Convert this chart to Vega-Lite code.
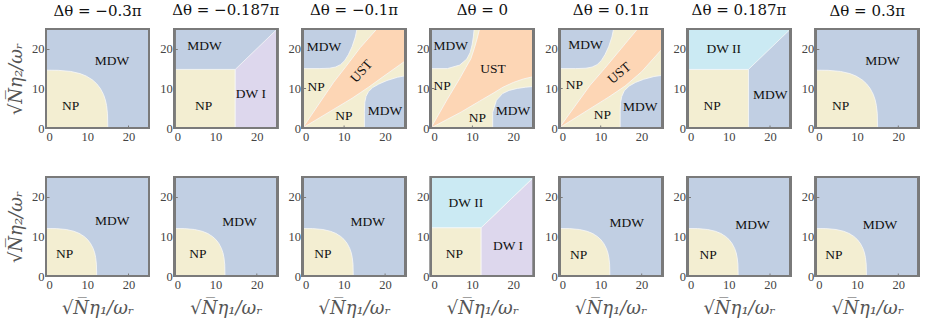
{
"$schema":"https://vega.github.io/schema/vega-lite/v6.json",
"background":"white",
"padding":{"left":7,"top":3,"right":4,"bottom":4},
"spacing":32,
"config":{
 "view":{"stroke":null},
 "font":"Liberation Serif",
 "axis":{"domain":false,"grid":false,"ticks":true,"tickSize":-3,"tickColor":"#7a7a7a","tickWidth":1,"labelFont":"Liberation Serif","labelFontSize":12.5,"labelColor":"#444","labelPadding":5,"titleFont":"DejaVu Serif","titleFontStyle":"italic","titleFontSize":18,"titleFontWeight":"normal","titleColor":"#555","titlePadding":6},
 "axisX":{"titlePadding":9},
 "text":{"font":"Liberation Serif","fontSize":13.5,"color":"#111"},
 "area":{"stroke":"#f8f8f8","strokeWidth":0.8},
 "rect":{"filled":false,"stroke":"#7a7a7a","strokeWidth":2},
 "title":{"font":"DejaVu Serif","fontSize":15,"fontWeight":"normal","color":"#111","offset":9,"anchor":"middle","frame":"group"}
},
"vconcat":[
{"hconcat":[
{"width":103,"height":99,"title":"Δθ = −0.3π","view":{"fill":"#c1cfe3"},
 "data":{"values":[
  {"k":"a","id":"n","r":"NP","x":0,"y":14.6,"y2":0},{"k":"a","id":"n","r":"NP","x":3,"y":14.56,"y2":0},{"k":"a","id":"n","r":"NP","x":6,"y":14.28,"y2":0},{"k":"a","id":"n","r":"NP","x":8.25,"y":13.74,"y2":0},{"k":"a","id":"n","r":"NP","x":9.75,"y":13.12,"y2":0},{"k":"a","id":"n","r":"NP","x":11.25,"y":12.16,"y2":0},{"k":"a","id":"n","r":"NP","x":12.3,"y":11.18,"y2":0},{"k":"a","id":"n","r":"NP","x":13.2,"y":9.97,"y2":0},{"k":"a","id":"n","r":"NP","x":13.95,"y":8.48,"y2":0},{"k":"a","id":"n","r":"NP","x":14.4,"y":7.11,"y2":0},{"k":"a","id":"n","r":"NP","x":14.7,"y":5.68,"y2":0},{"k":"a","id":"n","r":"NP","x":14.93,"y":3.59,"y2":0},{"k":"a","id":"n","r":"NP","x":15,"y":0,"y2":0},
  {"k":"t","r":"MDW","x":16,"y":17},{"k":"t","r":"NP","x":6,"y":5.6}]},
 "encoding":{"x":{"field":"x","type":"quantitative","scale":{"domain":[0,25],"nice":false},"axis":{"values":[0,10,20],"title":null}},"y":{"field":"y","type":"quantitative","scale":{"domain":[0,25],"nice":false},"axis":{"values":[0,10,20],"title":"√N̅η₂/ωᵣ"}}},
 "layer":[
  {"transform":[{"filter":"datum.k=='a'"}],"mark":"area","encoding":{"y2":{"field":"y2"},"color":{"field":"r","type":"nominal","scale":{"domain":["MDW","NP","UST","DW I","DW II"],"range":["#c1cfe3","#f3eed2","#fdd6b5","#ddd7ed","#cbeaf3"]},"legend":null},"detail":{"field":"id"}}},
  {"mark":"rect","encoding":{"x":{"datum":0,"type":"quantitative"},"x2":{"datum":25},"y":{"datum":0,"type":"quantitative"},"y2":{"datum":25}}},
  {"transform":[{"filter":"datum.k=='t'"}],"mark":"text","encoding":{"text":{"field":"r"}}}
 ]},
{"width":103,"height":99,"title":"Δθ = −0.187π","view":{"fill":"#c1cfe3"},
 "data":{"values":[
  {"k":"a","id":"n","r":"NP","x":0,"y":14.8,"y2":0},{"k":"a","id":"n","r":"NP","x":14.8,"y":14.8,"y2":0},
  {"k":"a","id":"d","r":"DW I","x":14.8,"y":14.8,"y2":0},{"k":"a","id":"d","r":"DW I","x":25,"y":25,"y2":0},
  {"k":"t","r":"MDW","x":7.3,"y":20.8},{"k":"t","r":"NP","x":7.1,"y":5.6},{"k":"t","r":"DW I","x":18.6,"y":8.6}]},
 "encoding":{"x":{"field":"x","type":"quantitative","scale":{"domain":[0,25],"nice":false},"axis":{"values":[0,10,20],"title":null}},"y":{"field":"y","type":"quantitative","scale":{"domain":[0,25],"nice":false},"axis":{"values":[0,10,20],"title":null}}},
 "layer":[
  {"transform":[{"filter":"datum.k=='a'"}],"mark":"area","encoding":{"y2":{"field":"y2"},"color":{"field":"r","type":"nominal","scale":{"domain":["MDW","NP","UST","DW I","DW II"],"range":["#c1cfe3","#f3eed2","#fdd6b5","#ddd7ed","#cbeaf3"]},"legend":null},"detail":{"field":"id"}}},
  {"mark":"rect","encoding":{"x":{"datum":0,"type":"quantitative"},"x2":{"datum":25},"y":{"datum":0,"type":"quantitative"},"y2":{"datum":25}}},
  {"transform":[{"filter":"datum.k=='t'"}],"mark":"text","encoding":{"text":{"field":"r"}}}
 ]},
{"width":103,"height":99,"title":"Δθ = −0.1π","view":{"fill":"#f3eed2"},
 "data":{"values":[
  {"k":"a","id":"m1","r":"MDW","x":0,"y":15,"y2":25},{"k":"a","id":"m1","r":"MDW","x":4,"y":15,"y2":25},{"k":"a","id":"m1","r":"MDW","x":6.5,"y":15.1,"y2":25},{"k":"a","id":"m1","r":"MDW","x":8,"y":15.4,"y2":25},{"k":"a","id":"m1","r":"MDW","x":9.2,"y":16,"y2":25},{"k":"a","id":"m1","r":"MDW","x":10.2,"y":17,"y2":25},{"k":"a","id":"m1","r":"MDW","x":11.1,"y":18.5,"y2":25},{"k":"a","id":"m1","r":"MDW","x":12,"y":20.5,"y2":25},{"k":"a","id":"m1","r":"MDW","x":12.8,"y":23,"y2":25},{"k":"a","id":"m1","r":"MDW","x":13.2,"y":25,"y2":25},
  {"k":"a","id":"m2","r":"MDW","x":15,"y":0,"y2":4},{"k":"a","id":"m2","r":"MDW","x":15.1,"y":0,"y2":6.5},{"k":"a","id":"m2","r":"MDW","x":15.4,"y":0,"y2":8},{"k":"a","id":"m2","r":"MDW","x":16,"y":0,"y2":9.2},{"k":"a","id":"m2","r":"MDW","x":17,"y":0,"y2":10.2},{"k":"a","id":"m2","r":"MDW","x":18.5,"y":0,"y2":11.1},{"k":"a","id":"m2","r":"MDW","x":20.5,"y":0,"y2":12},{"k":"a","id":"m2","r":"MDW","x":23,"y":0,"y2":12.8},{"k":"a","id":"m2","r":"MDW","x":25,"y":0,"y2":13.2},
  {"k":"a","id":"u","r":"UST","x":0,"y":0,"y2":0},{"k":"a","id":"u","r":"UST","x":7.5,"y":4.69,"y2":11.5},{"k":"a","id":"u","r":"UST","x":10.5,"y":6.56,"y2":15.5},{"k":"a","id":"u","r":"UST","x":12,"y":7.5,"y2":17.56},{"k":"a","id":"u","r":"UST","x":14,"y":8.9,"y2":20.3},{"k":"a","id":"u","r":"UST","x":16,"y":10.3,"y2":22.65},{"k":"a","id":"u","r":"UST","x":18,"y":11.8,"y2":25},{"k":"a","id":"u","r":"UST","x":20,"y":13.3,"y2":25},{"k":"a","id":"u","r":"UST","x":25,"y":17,"y2":25},
  {"k":"t","r":"MDW","x":5.2,"y":20.5},{"k":"t","r":"NP","x":3.3,"y":10.3},{"k":"t","r":"NP","x":10,"y":3},{"k":"t","r":"MDW","x":20,"y":4.3},{"k":"u","r":"UST","x":14.3,"y":14.3}]},
 "encoding":{"x":{"field":"x","type":"quantitative","scale":{"domain":[0,25],"nice":false},"axis":{"values":[0,10,20],"title":null}},"y":{"field":"y","type":"quantitative","scale":{"domain":[0,25],"nice":false},"axis":{"values":[0,10,20],"title":null}}},
 "layer":[
  {"transform":[{"filter":"datum.k=='a'"}],"mark":"area","encoding":{"y2":{"field":"y2"},"color":{"field":"r","type":"nominal","scale":{"domain":["MDW","NP","UST","DW I","DW II"],"range":["#c1cfe3","#f3eed2","#fdd6b5","#ddd7ed","#cbeaf3"]},"legend":null},"detail":{"field":"id"}}},
  {"mark":"rect","encoding":{"x":{"datum":0,"type":"quantitative"},"x2":{"datum":25},"y":{"datum":0,"type":"quantitative"},"y2":{"datum":25}}},
  {"transform":[{"filter":"datum.k=='t'"}],"mark":"text","encoding":{"text":{"field":"r"}}},
  {"transform":[{"filter":"datum.k=='u'"}],"mark":{"type":"text","angle":-48},"encoding":{"text":{"field":"r"}}}
 ]},
{"width":103,"height":99,"title":"Δθ = 0","view":{"fill":"#f3eed2"},
 "data":{"values":[
  {"k":"a","id":"m1","r":"MDW","x":0,"y":15,"y2":25},{"k":"a","id":"m1","r":"MDW","x":4,"y":15,"y2":25},{"k":"a","id":"m1","r":"MDW","x":7,"y":15.9,"y2":25},{"k":"a","id":"m1","r":"MDW","x":8.7,"y":17.4,"y2":25},{"k":"a","id":"m1","r":"MDW","x":9.5,"y":19,"y2":25},{"k":"a","id":"m1","r":"MDW","x":10,"y":21,"y2":25},{"k":"a","id":"m1","r":"MDW","x":10.3,"y":23,"y2":25},{"k":"a","id":"m1","r":"MDW","x":10.5,"y":25,"y2":25},
  {"k":"a","id":"m2","r":"MDW","x":15,"y":0,"y2":4},{"k":"a","id":"m2","r":"MDW","x":15.9,"y":0,"y2":7},{"k":"a","id":"m2","r":"MDW","x":17.4,"y":0,"y2":8.7},{"k":"a","id":"m2","r":"MDW","x":19,"y":0,"y2":9.5},{"k":"a","id":"m2","r":"MDW","x":21,"y":0,"y2":10},{"k":"a","id":"m2","r":"MDW","x":23,"y":0,"y2":10.3},{"k":"a","id":"m2","r":"MDW","x":25,"y":0,"y2":10.5},
  {"k":"a","id":"u","r":"UST","x":0,"y":0,"y2":0},{"k":"a","id":"u","r":"UST","x":4,"y":2.19,"y2":7.3},{"k":"a","id":"u","r":"UST","x":7,"y":3.84,"y2":12.5},{"k":"a","id":"u","r":"UST","x":7.3,"y":4,"y2":13.06},{"k":"a","id":"u","r":"UST","x":8.5,"y":4.74,"y2":15.3},{"k":"a","id":"u","r":"UST","x":9.7,"y":5.48,"y2":17.5},{"k":"a","id":"u","r":"UST","x":10.5,"y":5.97,"y2":20},{"k":"a","id":"u","r":"UST","x":11.2,"y":6.4,"y2":22.5},{"k":"a","id":"u","r":"UST","x":11.8,"y":6.77,"y2":25},{"k":"a","id":"u","r":"UST","x":12.5,"y":7.2,"y2":25},{"k":"a","id":"u","r":"UST","x":15.3,"y":8.9,"y2":25},{"k":"a","id":"u","r":"UST","x":17.5,"y":10.3,"y2":25},{"k":"a","id":"u","r":"UST","x":20,"y":11.5,"y2":25},{"k":"a","id":"u","r":"UST","x":22.5,"y":12.4,"y2":25},{"k":"a","id":"u","r":"UST","x":25,"y":13,"y2":25},
  {"k":"t","r":"MDW","x":4.8,"y":20.6},{"k":"t","r":"UST","x":15.1,"y":14.9},{"k":"t","r":"NP","x":2.7,"y":10.7},{"k":"t","r":"NP","x":11.3,"y":2.5},{"k":"t","r":"MDW","x":19.9,"y":4.4}]},
 "encoding":{"x":{"field":"x","type":"quantitative","scale":{"domain":[0,25],"nice":false},"axis":{"values":[0,10,20],"title":null}},"y":{"field":"y","type":"quantitative","scale":{"domain":[0,25],"nice":false},"axis":{"values":[0,10,20],"title":null}}},
 "layer":[
  {"transform":[{"filter":"datum.k=='a'"}],"mark":"area","encoding":{"y2":{"field":"y2"},"color":{"field":"r","type":"nominal","scale":{"domain":["MDW","NP","UST","DW I","DW II"],"range":["#c1cfe3","#f3eed2","#fdd6b5","#ddd7ed","#cbeaf3"]},"legend":null},"detail":{"field":"id"}}},
  {"mark":"rect","encoding":{"x":{"datum":0,"type":"quantitative"},"x2":{"datum":25},"y":{"datum":0,"type":"quantitative"},"y2":{"datum":25}}},
  {"transform":[{"filter":"datum.k=='t'"}],"mark":"text","encoding":{"text":{"field":"r"}}}
 ]},
{"width":103,"height":99,"title":"Δθ = 0.1π","view":{"fill":"#f3eed2"},
 "data":{"values":[
  {"k":"a","id":"m1","r":"MDW","x":0,"y":15,"y2":25},{"k":"a","id":"m1","r":"MDW","x":4,"y":15,"y2":25},{"k":"a","id":"m1","r":"MDW","x":6.5,"y":15.1,"y2":25},{"k":"a","id":"m1","r":"MDW","x":8,"y":15.4,"y2":25},{"k":"a","id":"m1","r":"MDW","x":9.2,"y":16,"y2":25},{"k":"a","id":"m1","r":"MDW","x":10.2,"y":17,"y2":25},{"k":"a","id":"m1","r":"MDW","x":11.1,"y":18.5,"y2":25},{"k":"a","id":"m1","r":"MDW","x":12,"y":20.5,"y2":25},{"k":"a","id":"m1","r":"MDW","x":12.8,"y":23,"y2":25},{"k":"a","id":"m1","r":"MDW","x":13.2,"y":25,"y2":25},
  {"k":"a","id":"m2","r":"MDW","x":14.8,"y":0,"y2":4},{"k":"a","id":"m2","r":"MDW","x":14.9,"y":0,"y2":6.5},{"k":"a","id":"m2","r":"MDW","x":15.2,"y":0,"y2":8},{"k":"a","id":"m2","r":"MDW","x":15.8,"y":0,"y2":9.4},{"k":"a","id":"m2","r":"MDW","x":17,"y":0,"y2":10.6},{"k":"a","id":"m2","r":"MDW","x":18.5,"y":0,"y2":11.5},{"k":"a","id":"m2","r":"MDW","x":20.5,"y":0,"y2":12.3},{"k":"a","id":"m2","r":"MDW","x":23,"y":0,"y2":13},{"k":"a","id":"m2","r":"MDW","x":25,"y":0,"y2":13.3},
  {"k":"a","id":"u","r":"UST","x":0,"y":0,"y2":0},{"k":"a","id":"u","r":"UST","x":7.5,"y":4.875,"y2":10.8},{"k":"a","id":"u","r":"UST","x":11,"y":7.15,"y2":15},{"k":"a","id":"u","r":"UST","x":12,"y":7.8,"y2":16.25},{"k":"a","id":"u","r":"UST","x":15,"y":9.9,"y2":20},{"k":"a","id":"u","r":"UST","x":16,"y":10.6,"y2":21.25},{"k":"a","id":"u","r":"UST","x":19,"y":13.3,"y2":25},{"k":"a","id":"u","r":"UST","x":20,"y":14.2,"y2":25},{"k":"a","id":"u","r":"UST","x":25,"y":20,"y2":25},
  {"k":"t","r":"MDW","x":6.4,"y":21},{"k":"t","r":"NP","x":3.7,"y":10.8},{"k":"t","r":"NP","x":10.5,"y":3.3},{"k":"t","r":"MDW","x":19.7,"y":5.2},{"k":"u","r":"UST","x":14.6,"y":13.8}]},
 "encoding":{"x":{"field":"x","type":"quantitative","scale":{"domain":[0,25],"nice":false},"axis":{"values":[0,10,20],"title":null}},"y":{"field":"y","type":"quantitative","scale":{"domain":[0,25],"nice":false},"axis":{"values":[0,10,20],"title":null}}},
 "layer":[
  {"transform":[{"filter":"datum.k=='a'"}],"mark":"area","encoding":{"y2":{"field":"y2"},"color":{"field":"r","type":"nominal","scale":{"domain":["MDW","NP","UST","DW I","DW II"],"range":["#c1cfe3","#f3eed2","#fdd6b5","#ddd7ed","#cbeaf3"]},"legend":null},"detail":{"field":"id"}}},
  {"mark":"rect","encoding":{"x":{"datum":0,"type":"quantitative"},"x2":{"datum":25},"y":{"datum":0,"type":"quantitative"},"y2":{"datum":25}}},
  {"transform":[{"filter":"datum.k=='t'"}],"mark":"text","encoding":{"text":{"field":"r"}}},
  {"transform":[{"filter":"datum.k=='u'"}],"mark":{"type":"text","angle":-40},"encoding":{"text":{"field":"r"}}}
 ]},
{"width":103,"height":99,"title":"Δθ = 0.187π","view":{"fill":"#c1cfe3"},
 "data":{"values":[
  {"k":"a","id":"n","r":"NP","x":0,"y":14.8,"y2":0},{"k":"a","id":"n","r":"NP","x":14.8,"y":14.8,"y2":0},
  {"k":"a","id":"d","r":"DW II","x":0,"y":14.8,"y2":25},{"k":"a","id":"d","r":"DW II","x":14.8,"y":14.8,"y2":25},{"k":"a","id":"d","r":"DW II","x":25,"y":25,"y2":25},
  {"k":"t","r":"DW II","x":8.8,"y":19.9},{"k":"t","r":"NP","x":6,"y":5.6},{"k":"t","r":"MDW","x":20.1,"y":8.4}]},
 "encoding":{"x":{"field":"x","type":"quantitative","scale":{"domain":[0,25],"nice":false},"axis":{"values":[0,10,20],"title":null}},"y":{"field":"y","type":"quantitative","scale":{"domain":[0,25],"nice":false},"axis":{"values":[0,10,20],"title":null}}},
 "layer":[
  {"transform":[{"filter":"datum.k=='a'"}],"mark":"area","encoding":{"y2":{"field":"y2"},"color":{"field":"r","type":"nominal","scale":{"domain":["MDW","NP","UST","DW I","DW II"],"range":["#c1cfe3","#f3eed2","#fdd6b5","#ddd7ed","#cbeaf3"]},"legend":null},"detail":{"field":"id"}}},
  {"mark":"rect","encoding":{"x":{"datum":0,"type":"quantitative"},"x2":{"datum":25},"y":{"datum":0,"type":"quantitative"},"y2":{"datum":25}}},
  {"transform":[{"filter":"datum.k=='t'"}],"mark":"text","encoding":{"text":{"field":"r"}}}
 ]},
{"width":103,"height":99,"title":"Δθ = 0.3π","view":{"fill":"#c1cfe3"},
 "data":{"values":[
  {"k":"a","id":"n","r":"NP","x":0,"y":14.6,"y2":0},{"k":"a","id":"n","r":"NP","x":3,"y":14.56,"y2":0},{"k":"a","id":"n","r":"NP","x":6,"y":14.28,"y2":0},{"k":"a","id":"n","r":"NP","x":8.25,"y":13.74,"y2":0},{"k":"a","id":"n","r":"NP","x":9.75,"y":13.12,"y2":0},{"k":"a","id":"n","r":"NP","x":11.25,"y":12.16,"y2":0},{"k":"a","id":"n","r":"NP","x":12.3,"y":11.18,"y2":0},{"k":"a","id":"n","r":"NP","x":13.2,"y":9.97,"y2":0},{"k":"a","id":"n","r":"NP","x":13.95,"y":8.48,"y2":0},{"k":"a","id":"n","r":"NP","x":14.4,"y":7.11,"y2":0},{"k":"a","id":"n","r":"NP","x":14.7,"y":5.68,"y2":0},{"k":"a","id":"n","r":"NP","x":14.93,"y":3.59,"y2":0},{"k":"a","id":"n","r":"NP","x":15,"y":0,"y2":0},
  {"k":"t","r":"MDW","x":16.2,"y":17},{"k":"t","r":"NP","x":6,"y":5.6}]},
 "encoding":{"x":{"field":"x","type":"quantitative","scale":{"domain":[0,25],"nice":false},"axis":{"values":[0,10,20],"title":null}},"y":{"field":"y","type":"quantitative","scale":{"domain":[0,25],"nice":false},"axis":{"values":[0,10,20],"title":null}}},
 "layer":[
  {"transform":[{"filter":"datum.k=='a'"}],"mark":"area","encoding":{"y2":{"field":"y2"},"color":{"field":"r","type":"nominal","scale":{"domain":["MDW","NP","UST","DW I","DW II"],"range":["#c1cfe3","#f3eed2","#fdd6b5","#ddd7ed","#cbeaf3"]},"legend":null},"detail":{"field":"id"}}},
  {"mark":"rect","encoding":{"x":{"datum":0,"type":"quantitative"},"x2":{"datum":25},"y":{"datum":0,"type":"quantitative"},"y2":{"datum":25}}},
  {"transform":[{"filter":"datum.k=='t'"}],"mark":"text","encoding":{"text":{"field":"r"}}}
 ]}
],"spacing":25.3,"bounds":"flush"},
{"hconcat":[
{"width":103,"height":99,"view":{"fill":"#c1cfe3"},
 "data":{"values":[
  {"k":"a","id":"n","r":"NP","x":0,"y":12,"y2":0},{"k":"a","id":"n","r":"NP","x":2.46,"y":11.97,"y2":0},{"k":"a","id":"n","r":"NP","x":4.92,"y":11.74,"y2":0},{"k":"a","id":"n","r":"NP","x":6.77,"y":11.29,"y2":0},{"k":"a","id":"n","r":"NP","x":8,"y":10.78,"y2":0},{"k":"a","id":"n","r":"NP","x":9.23,"y":10,"y2":0},{"k":"a","id":"n","r":"NP","x":10.09,"y":9.19,"y2":0},{"k":"a","id":"n","r":"NP","x":10.82,"y":8.2,"y2":0},{"k":"a","id":"n","r":"NP","x":11.44,"y":6.97,"y2":0},{"k":"a","id":"n","r":"NP","x":11.81,"y":5.84,"y2":0},{"k":"a","id":"n","r":"NP","x":12.05,"y":4.67,"y2":0},{"k":"a","id":"n","r":"NP","x":12.24,"y":2.95,"y2":0},{"k":"a","id":"n","r":"NP","x":12.3,"y":0,"y2":0},
  {"k":"t","r":"MDW","x":16.1,"y":13.9},{"k":"t","r":"NP","x":4.5,"y":5.5}]},
 "encoding":{"x":{"field":"x","type":"quantitative","scale":{"domain":[0,25],"nice":false},"axis":{"values":[0,10,20],"title":"√N̅η₁/ωᵣ"}},"y":{"field":"y","type":"quantitative","scale":{"domain":[0,25],"nice":false},"axis":{"values":[0,10,20],"title":"√N̅η₂/ωᵣ"}}},
 "layer":[
  {"transform":[{"filter":"datum.k=='a'"}],"mark":"area","encoding":{"y2":{"field":"y2"},"color":{"field":"r","type":"nominal","scale":{"domain":["MDW","NP","UST","DW I","DW II"],"range":["#c1cfe3","#f3eed2","#fdd6b5","#ddd7ed","#cbeaf3"]},"legend":null},"detail":{"field":"id"}}},
  {"mark":"rect","encoding":{"x":{"datum":0,"type":"quantitative"},"x2":{"datum":25},"y":{"datum":0,"type":"quantitative"},"y2":{"datum":25}}},
  {"transform":[{"filter":"datum.k=='t'"}],"mark":"text","encoding":{"text":{"field":"r"}}}
 ]},
{"width":103,"height":99,"view":{"fill":"#c1cfe3"},
 "data":{"values":[
  {"k":"a","id":"n","r":"NP","x":0,"y":12,"y2":0},{"k":"a","id":"n","r":"NP","x":2.46,"y":11.97,"y2":0},{"k":"a","id":"n","r":"NP","x":4.92,"y":11.74,"y2":0},{"k":"a","id":"n","r":"NP","x":6.77,"y":11.29,"y2":0},{"k":"a","id":"n","r":"NP","x":8,"y":10.78,"y2":0},{"k":"a","id":"n","r":"NP","x":9.23,"y":10,"y2":0},{"k":"a","id":"n","r":"NP","x":10.09,"y":9.19,"y2":0},{"k":"a","id":"n","r":"NP","x":10.82,"y":8.2,"y2":0},{"k":"a","id":"n","r":"NP","x":11.44,"y":6.97,"y2":0},{"k":"a","id":"n","r":"NP","x":11.81,"y":5.84,"y2":0},{"k":"a","id":"n","r":"NP","x":12.05,"y":4.67,"y2":0},{"k":"a","id":"n","r":"NP","x":12.24,"y":2.95,"y2":0},{"k":"a","id":"n","r":"NP","x":12.3,"y":0,"y2":0},
  {"k":"t","r":"MDW","x":15.8,"y":13.7},{"k":"t","r":"NP","x":5.7,"y":5.5}]},
 "encoding":{"x":{"field":"x","type":"quantitative","scale":{"domain":[0,25],"nice":false},"axis":{"values":[0,10,20],"title":"√N̅η₁/ωᵣ"}},"y":{"field":"y","type":"quantitative","scale":{"domain":[0,25],"nice":false},"axis":{"values":[0,10,20],"title":null}}},
 "layer":[
  {"transform":[{"filter":"datum.k=='a'"}],"mark":"area","encoding":{"y2":{"field":"y2"},"color":{"field":"r","type":"nominal","scale":{"domain":["MDW","NP","UST","DW I","DW II"],"range":["#c1cfe3","#f3eed2","#fdd6b5","#ddd7ed","#cbeaf3"]},"legend":null},"detail":{"field":"id"}}},
  {"mark":"rect","encoding":{"x":{"datum":0,"type":"quantitative"},"x2":{"datum":25},"y":{"datum":0,"type":"quantitative"},"y2":{"datum":25}}},
  {"transform":[{"filter":"datum.k=='t'"}],"mark":"text","encoding":{"text":{"field":"r"}}}
 ]},
{"width":103,"height":99,"view":{"fill":"#c1cfe3"},
 "data":{"values":[
  {"k":"a","id":"n","r":"NP","x":0,"y":12,"y2":0},{"k":"a","id":"n","r":"NP","x":2.46,"y":11.97,"y2":0},{"k":"a","id":"n","r":"NP","x":4.92,"y":11.74,"y2":0},{"k":"a","id":"n","r":"NP","x":6.77,"y":11.29,"y2":0},{"k":"a","id":"n","r":"NP","x":8,"y":10.78,"y2":0},{"k":"a","id":"n","r":"NP","x":9.23,"y":10,"y2":0},{"k":"a","id":"n","r":"NP","x":10.09,"y":9.19,"y2":0},{"k":"a","id":"n","r":"NP","x":10.82,"y":8.2,"y2":0},{"k":"a","id":"n","r":"NP","x":11.44,"y":6.97,"y2":0},{"k":"a","id":"n","r":"NP","x":11.81,"y":5.84,"y2":0},{"k":"a","id":"n","r":"NP","x":12.05,"y":4.67,"y2":0},{"k":"a","id":"n","r":"NP","x":12.24,"y":2.95,"y2":0},{"k":"a","id":"n","r":"NP","x":12.3,"y":0,"y2":0},
  {"k":"t","r":"MDW","x":15.8,"y":13.6},{"k":"t","r":"NP","x":4.9,"y":5.5}]},
 "encoding":{"x":{"field":"x","type":"quantitative","scale":{"domain":[0,25],"nice":false},"axis":{"values":[0,10,20],"title":"√N̅η₁/ωᵣ"}},"y":{"field":"y","type":"quantitative","scale":{"domain":[0,25],"nice":false},"axis":{"values":[0,10,20],"title":null}}},
 "layer":[
  {"transform":[{"filter":"datum.k=='a'"}],"mark":"area","encoding":{"y2":{"field":"y2"},"color":{"field":"r","type":"nominal","scale":{"domain":["MDW","NP","UST","DW I","DW II"],"range":["#c1cfe3","#f3eed2","#fdd6b5","#ddd7ed","#cbeaf3"]},"legend":null},"detail":{"field":"id"}}},
  {"mark":"rect","encoding":{"x":{"datum":0,"type":"quantitative"},"x2":{"datum":25},"y":{"datum":0,"type":"quantitative"},"y2":{"datum":25}}},
  {"transform":[{"filter":"datum.k=='t'"}],"mark":"text","encoding":{"text":{"field":"r"}}}
 ]},
{"width":103,"height":99,"view":{"fill":"#f3eed2"},
 "data":{"values":[
  {"k":"a","id":"n","r":"NP","x":0,"y":12.2,"y2":0},{"k":"a","id":"n","r":"NP","x":12.2,"y":12.2,"y2":0},
  {"k":"a","id":"d1","r":"DW I","x":12.2,"y":12.2,"y2":0},{"k":"a","id":"d1","r":"DW I","x":25,"y":25,"y2":0},
  {"k":"a","id":"d2","r":"DW II","x":0,"y":12.2,"y2":25},{"k":"a","id":"d2","r":"DW II","x":12.2,"y":12.2,"y2":25},{"k":"a","id":"d2","r":"DW II","x":25,"y":25,"y2":25},
  {"k":"t","r":"DW II","x":8.5,"y":18.4},{"k":"t","r":"NP","x":5.7,"y":5.5},{"k":"t","r":"DW I","x":18.7,"y":7.6}]},
 "encoding":{"x":{"field":"x","type":"quantitative","scale":{"domain":[0,25],"nice":false},"axis":{"values":[0,10,20],"title":"√N̅η₁/ωᵣ"}},"y":{"field":"y","type":"quantitative","scale":{"domain":[0,25],"nice":false},"axis":{"values":[0,10,20],"title":null}}},
 "layer":[
  {"transform":[{"filter":"datum.k=='a'"}],"mark":"area","encoding":{"y2":{"field":"y2"},"color":{"field":"r","type":"nominal","scale":{"domain":["MDW","NP","UST","DW I","DW II"],"range":["#c1cfe3","#f3eed2","#fdd6b5","#ddd7ed","#cbeaf3"]},"legend":null},"detail":{"field":"id"}}},
  {"mark":"rect","encoding":{"x":{"datum":0,"type":"quantitative"},"x2":{"datum":25},"y":{"datum":0,"type":"quantitative"},"y2":{"datum":25}}},
  {"transform":[{"filter":"datum.k=='t'"}],"mark":"text","encoding":{"text":{"field":"r"}}}
 ]},
{"width":103,"height":99,"view":{"fill":"#c1cfe3"},
 "data":{"values":[
  {"k":"a","id":"n","r":"NP","x":0,"y":12,"y2":0},{"k":"a","id":"n","r":"NP","x":2.46,"y":11.97,"y2":0},{"k":"a","id":"n","r":"NP","x":4.92,"y":11.74,"y2":0},{"k":"a","id":"n","r":"NP","x":6.77,"y":11.29,"y2":0},{"k":"a","id":"n","r":"NP","x":8,"y":10.78,"y2":0},{"k":"a","id":"n","r":"NP","x":9.23,"y":10,"y2":0},{"k":"a","id":"n","r":"NP","x":10.09,"y":9.19,"y2":0},{"k":"a","id":"n","r":"NP","x":10.82,"y":8.2,"y2":0},{"k":"a","id":"n","r":"NP","x":11.44,"y":6.97,"y2":0},{"k":"a","id":"n","r":"NP","x":11.81,"y":5.84,"y2":0},{"k":"a","id":"n","r":"NP","x":12.05,"y":4.67,"y2":0},{"k":"a","id":"n","r":"NP","x":12.24,"y":2.95,"y2":0},{"k":"a","id":"n","r":"NP","x":12.3,"y":0,"y2":0},
  {"k":"t","r":"MDW","x":16.4,"y":13.4},{"k":"t","r":"NP","x":4.7,"y":5.3}]},
 "encoding":{"x":{"field":"x","type":"quantitative","scale":{"domain":[0,25],"nice":false},"axis":{"values":[0,10,20],"title":"√N̅η₁/ωᵣ"}},"y":{"field":"y","type":"quantitative","scale":{"domain":[0,25],"nice":false},"axis":{"values":[0,10,20],"title":null}}},
 "layer":[
  {"transform":[{"filter":"datum.k=='a'"}],"mark":"area","encoding":{"y2":{"field":"y2"},"color":{"field":"r","type":"nominal","scale":{"domain":["MDW","NP","UST","DW I","DW II"],"range":["#c1cfe3","#f3eed2","#fdd6b5","#ddd7ed","#cbeaf3"]},"legend":null},"detail":{"field":"id"}}},
  {"mark":"rect","encoding":{"x":{"datum":0,"type":"quantitative"},"x2":{"datum":25},"y":{"datum":0,"type":"quantitative"},"y2":{"datum":25}}},
  {"transform":[{"filter":"datum.k=='t'"}],"mark":"text","encoding":{"text":{"field":"r"}}}
 ]},
{"width":103,"height":99,"view":{"fill":"#c1cfe3"},
 "data":{"values":[
  {"k":"a","id":"n","r":"NP","x":0,"y":12,"y2":0},{"k":"a","id":"n","r":"NP","x":2.46,"y":11.97,"y2":0},{"k":"a","id":"n","r":"NP","x":4.92,"y":11.74,"y2":0},{"k":"a","id":"n","r":"NP","x":6.77,"y":11.29,"y2":0},{"k":"a","id":"n","r":"NP","x":8,"y":10.78,"y2":0},{"k":"a","id":"n","r":"NP","x":9.23,"y":10,"y2":0},{"k":"a","id":"n","r":"NP","x":10.09,"y":9.19,"y2":0},{"k":"a","id":"n","r":"NP","x":10.82,"y":8.2,"y2":0},{"k":"a","id":"n","r":"NP","x":11.44,"y":6.97,"y2":0},{"k":"a","id":"n","r":"NP","x":11.81,"y":5.84,"y2":0},{"k":"a","id":"n","r":"NP","x":12.05,"y":4.67,"y2":0},{"k":"a","id":"n","r":"NP","x":12.24,"y":2.95,"y2":0},{"k":"a","id":"n","r":"NP","x":12.3,"y":0,"y2":0},
  {"k":"t","r":"MDW","x":15.8,"y":13},{"k":"t","r":"NP","x":5,"y":5.3}]},
 "encoding":{"x":{"field":"x","type":"quantitative","scale":{"domain":[0,25],"nice":false},"axis":{"values":[0,10,20],"title":"√N̅η₁/ωᵣ"}},"y":{"field":"y","type":"quantitative","scale":{"domain":[0,25],"nice":false},"axis":{"values":[0,10,20],"title":null}}},
 "layer":[
  {"transform":[{"filter":"datum.k=='a'"}],"mark":"area","encoding":{"y2":{"field":"y2"},"color":{"field":"r","type":"nominal","scale":{"domain":["MDW","NP","UST","DW I","DW II"],"range":["#c1cfe3","#f3eed2","#fdd6b5","#ddd7ed","#cbeaf3"]},"legend":null},"detail":{"field":"id"}}},
  {"mark":"rect","encoding":{"x":{"datum":0,"type":"quantitative"},"x2":{"datum":25},"y":{"datum":0,"type":"quantitative"},"y2":{"datum":25}}},
  {"transform":[{"filter":"datum.k=='t'"}],"mark":"text","encoding":{"text":{"field":"r"}}}
 ]},
{"width":103,"height":99,"view":{"fill":"#c1cfe3"},
 "data":{"values":[
  {"k":"a","id":"n","r":"NP","x":0,"y":12,"y2":0},{"k":"a","id":"n","r":"NP","x":2.46,"y":11.97,"y2":0},{"k":"a","id":"n","r":"NP","x":4.92,"y":11.74,"y2":0},{"k":"a","id":"n","r":"NP","x":6.77,"y":11.29,"y2":0},{"k":"a","id":"n","r":"NP","x":8,"y":10.78,"y2":0},{"k":"a","id":"n","r":"NP","x":9.23,"y":10,"y2":0},{"k":"a","id":"n","r":"NP","x":10.09,"y":9.19,"y2":0},{"k":"a","id":"n","r":"NP","x":10.82,"y":8.2,"y2":0},{"k":"a","id":"n","r":"NP","x":11.44,"y":6.97,"y2":0},{"k":"a","id":"n","r":"NP","x":11.81,"y":5.84,"y2":0},{"k":"a","id":"n","r":"NP","x":12.05,"y":4.67,"y2":0},{"k":"a","id":"n","r":"NP","x":12.24,"y":2.95,"y2":0},{"k":"a","id":"n","r":"NP","x":12.3,"y":0,"y2":0},
  {"k":"t","r":"MDW","x":15.6,"y":13},{"k":"t","r":"NP","x":4.4,"y":5.3}]},
 "encoding":{"x":{"field":"x","type":"quantitative","scale":{"domain":[0,25],"nice":false},"axis":{"values":[0,10,20],"title":"√N̅η₁/ωᵣ"}},"y":{"field":"y","type":"quantitative","scale":{"domain":[0,25],"nice":false},"axis":{"values":[0,10,20],"title":null}}},
 "layer":[
  {"transform":[{"filter":"datum.k=='a'"}],"mark":"area","encoding":{"y2":{"field":"y2"},"color":{"field":"r","type":"nominal","scale":{"domain":["MDW","NP","UST","DW I","DW II"],"range":["#c1cfe3","#f3eed2","#fdd6b5","#ddd7ed","#cbeaf3"]},"legend":null},"detail":{"field":"id"}}},
  {"mark":"rect","encoding":{"x":{"datum":0,"type":"quantitative"},"x2":{"datum":25},"y":{"datum":0,"type":"quantitative"},"y2":{"datum":25}}},
  {"transform":[{"filter":"datum.k=='t'"}],"mark":"text","encoding":{"text":{"field":"r"}}}
 ]}
],"spacing":25.3,"bounds":"flush"}
]
}
